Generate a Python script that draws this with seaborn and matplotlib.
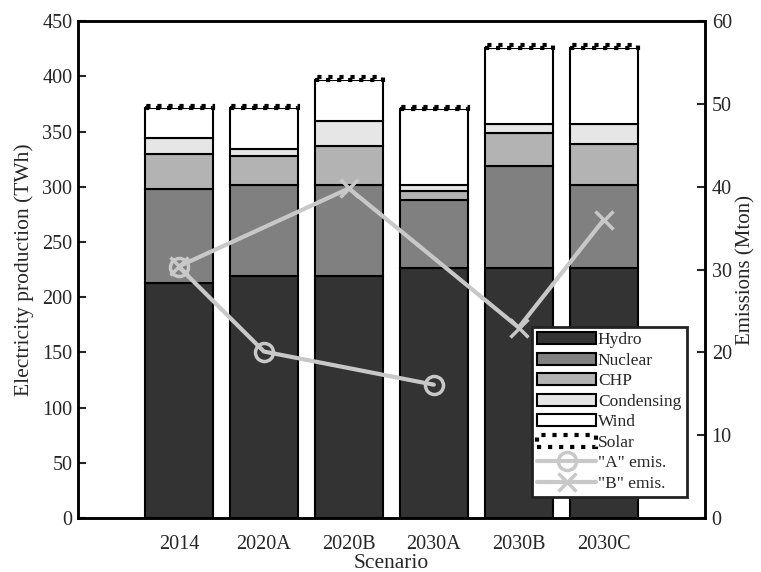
"""Electricity production and emissions per scenario"""

import matplotlib

matplotlib.use("Agg")
import matplotlib.pyplot as plt
import seaborn as sns
from matplotlib.lines import Line2D
from matplotlib.patches import Patch

scenarios = ["2014", "2020A", "2020B", "2030A", "2030B", "2030C"]
hydro = [213, 219, 219, 226, 226, 226]
nuclear = [85, 83, 83, 62, 93, 76]
chp = [32, 26, 35, 8, 30, 37]
condensing = [14, 6, 23, 6, 8, 18]
wind = [27, 37, 37, 68, 69, 69]
solar = [2, 2, 2, 2, 2, 2]

a_scen = ["2014", "2020A", "2030A"]
a_emis = [30.3, 20.1, 16.1]
b_scen = ["2014", "2020B", "2030B", "2030C"]
b_emis = [30.4, 39.8, 23.0, 36.0]

sns.set_style("ticks")
plt.rcParams["font.family"] = ["Liberation Serif", "DejaVu Serif"]
plt.rcParams["font.size"] = 14.5

fig, ax = plt.subplots(figsize=(7.61, 5.72), dpi=100)
fig.subplots_adjust(left=0.1025, right=0.926, top=0.963, bottom=0.0944)

layers = [
    ("Hydro", hydro, "#333333", "-"),
    ("Nuclear", nuclear, "#808080", "-"),
    ("CHP", chp, "#b3b3b3", "-"),
    ("Condensing", condensing, "#e6e6e6", "-"),
    ("Wind", wind, "white", "-"),
    ("Solar", solar, "white", ":"),
]

bottom = [0] * len(scenarios)
handles = []
for name, vals, col, ls in layers:
    lw = 3 if ls == ":" else 1.5
    sns.barplot(
        x=scenarios, y=vals, color=col, saturation=1, width=0.8,
        edgecolor="black", linewidth=lw, ax=ax,
    )
    for patch, b in zip(ax.containers[-1], bottom):
        patch.set_y(b)
        patch.set_linestyle(ls)
    bottom = [b + v for b, v in zip(bottom, vals)]
    handles.append(
        Patch(facecolor=col, edgecolor="black", linewidth=lw, linestyle=ls,
              label=name)
    )

ax.set_ylim(0, 450)
ax.set_yticks(range(0, 451, 50))
ax.set_xlim(-1.19, 6.19)
ax.set_xlabel("Scenario", fontsize=15.5, labelpad=0)
ax.set_ylabel("Electricity production (TWh)", fontsize=15.5, labelpad=6)
ax.tick_params(axis="y", direction="in", length=6, width=1.5, pad=4)
ax.tick_params(axis="x", length=0, pad=12)

ax2 = ax.twinx()
pos = {s: i for i, s in enumerate(scenarios)}
line_kw = dict(color="#c8c8c8", linewidth=3, markersize=13,
               markeredgewidth=2.5)
ax2.plot([pos[s] for s in a_scen], a_emis, marker="o",
         markerfacecolor="none", **line_kw)
ax2.plot([pos[s] for s in b_scen], b_emis, marker="x", **line_kw)
handles.append(Line2D([], [], marker="o", markerfacecolor="none",
                      label='"A" emis.', **line_kw))
handles.append(Line2D([], [], marker="x", label='"B" emis.', **line_kw))
ax2.set_ylim(0, 60)
ax2.set_yticks(range(0, 61, 10))
ax2.set_ylabel("Emissions (Mton)", fontsize=15, labelpad=3)
ax2.tick_params(axis="y", direction="in", length=6, width=1.5, pad=5)

for a in (ax, ax2):
    for sp in a.spines.values():
        sp.set_visible(True)
        sp.set_linewidth(1.8)
        sp.set_color("black")

leg = ax2.legend(
    handles=handles, loc="lower right", bbox_to_anchor=(0.971, 0.042),
    borderaxespad=0, fancybox=False, framealpha=1, edgecolor="#222222",
    handlelength=3.4, handletextpad=0.1, labelspacing=0.25, borderpad=0.3,
    fontsize=12.5,
)
leg.get_frame().set_linewidth(2)

fig.savefig("out.png", dpi=100)
